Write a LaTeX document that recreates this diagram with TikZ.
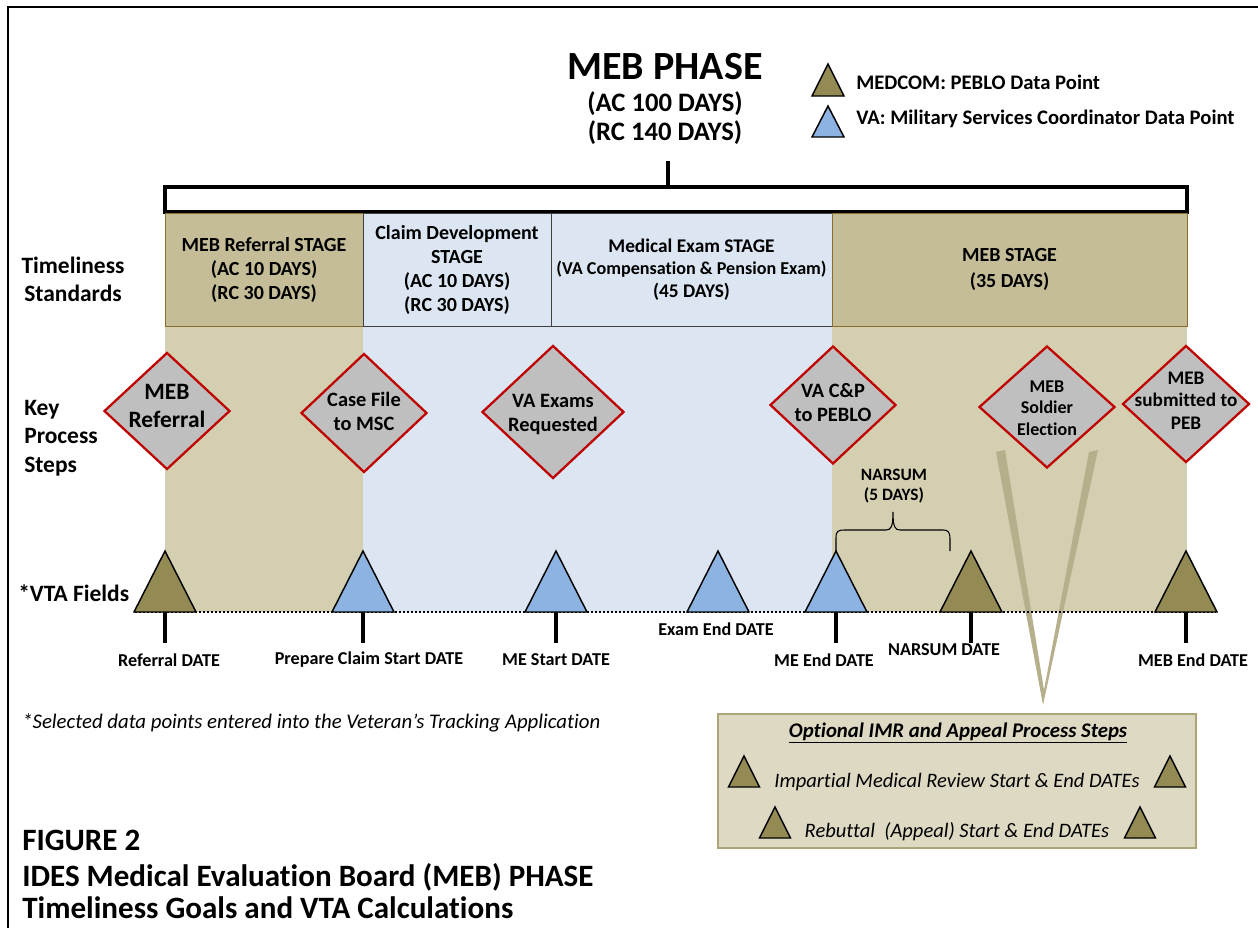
\documentclass[tikz,border=0pt]{standalone}
\usepackage{fontspec}
\setmainfont{Carlito}[Ligatures={NoCommon}]
\usetikzlibrary{shapes.geometric}

\definecolor{tanstage}{HTML}{C4BD97}
\definecolor{tanband}{HTML}{D5CFB2}
\definecolor{bluestage}{HTML}{DCE6F2}
\definecolor{tanborder}{HTML}{8C6D31}
\definecolor{diagray}{HTML}{BFBFBF}
\definecolor{diared}{HTML}{C00000}
\definecolor{medcom}{HTML}{948A54}
\definecolor{vablue}{HTML}{8DB3E2}
\definecolor{optfill}{HTML}{DDD9C3}
\definecolor{optborder}{HTML}{ADA577}
\definecolor{vmark}{HTML}{B5AF8C}

% triangle data point: name, x, base y, half width, height, fill
\newcommand\datatri[6]{%
  \coordinate (#1) at (#2,#3);
  \filldraw[tri, fill=#6] (#1) ++(-#4,0) -- ++(#4,-#5) -- ++(#4,#5) -- cycle;}

\begin{document}
\begin{tikzpicture}[x=0.75pt,y=-0.75pt,
  tri/.style={draw=black, line width=1.1pt, line join=miter},
  rowlbl/.style={font=\bfseries\fontsize{17.6}{21.2}\selectfont, inner sep=0},
  stagebox/.style={draw, line width=0.6pt, inner sep=0, align=center,
    font=\bfseries\fontsize{15}{18}\selectfont},
  kdiamond/.style={diamond, draw=diared, fill=diagray, line width=1.7pt, inner sep=0},
  dtext/.style={font=\bfseries\fontsize{15.3}{18.5}\selectfont, align=center, inner sep=0},
  datelbl/.style={font=\bfseries\fontsize{13.6}{16}\selectfont, inner sep=0},
  tick/.style={line width=2.6pt},
  legtxt/.style={font=\bfseries\fontsize{15.5}{18}\selectfont, anchor=west, inner sep=0},
  opttxt/.style={font=\itshape\fontsize{15.4}{18}\selectfont, inner sep=0}]

\useasboundingbox (0,0) rectangle (1258,928);

% outer frame (top and left edges)
\draw[line width=1.5pt] (8,928) -- (8,7) -- (1258,7);

% title
\node[font=\bfseries\fontsize{30}{36}\selectfont, inner sep=0] (title) at (665,67) {MEB PHASE};
\node[font=\bfseries\fontsize{20}{22}\selectfont, align=center, inner sep=0] (titsub) at (665,118)
  {(AC 100 DAYS)\\(RC 140 DAYS)};

% legend
\datatri{legmed}{828}{96}{16}{32}{medcom}
\datatri{legva}{828}{137}{16}{31}{vablue}
\node[legtxt] (legmedt) at (856,82) {MEDCOM: PEBLO Data Point};
\node[legtxt] (legvat) at (856,119) {VA: Military Services Coordinator Data Point};

% background bands
\fill[tanband] (165,326) rectangle (363,612);
\fill[bluestage] (363,326) rectangle (832,612);
\fill[tanband] (832,326) rectangle (1187,612);

% phase bracket and stages
\node[draw, fill=white, line width=2.5pt, minimum width=766.5pt, minimum height=18.75pt, inner sep=0]
  (bracket) at (676,199.5) {};
\coordinate (stemtop) at (668,161);
\draw[line width=2.4pt] (stemtop) -- (stemtop |- bracket.north);

\node[stagebox, draw=tanborder, fill=tanstage, minimum width=148.5pt, minimum height=84.75pt]
  (s1) at (264,269.5) {MEB Referral STAGE\\(AC 10 DAYS)\\(RC 30 DAYS)};
\node[stagebox, draw=black!75, fill=bluestage, minimum width=141pt, minimum height=84.75pt]
  (s2) at (457,269.5) {Claim Development\\STAGE\\(AC 10 DAYS)\\(RC 30 DAYS)};
\node[stagebox, draw=black!75, fill=bluestage, minimum width=210.75pt, minimum height=84.75pt,
  font=\bfseries\fontsize{14.5}{17}\selectfont]
  (s3) at (691.5,269.5) {Medical Exam STAGE\\{\fontsize{13.6}{17}\selectfont(VA Compensation \& Pension Exam)}\\(45 DAYS)};
\node[stagebox, draw=tanborder, fill=tanstage, minimum width=266.25pt, minimum height=84.75pt,
  font=\bfseries\fontsize{15}{19}\selectfont]
  (s4) at (1009.5,269.5) {MEB STAGE\\(35 DAYS)};

% row labels
\node[rowlbl, align=center] (rl1) at (73,279) {Timeliness\\Standards};
\node[rowlbl, align=left, anchor=west, font=\bfseries\fontsize{17.6}{21.4}\selectfont] (rl2) at (24,438) {Key\\Process\\Steps};
\node[rowlbl, anchor=west] (rl3) at (18,593) {*VTA Fields};

% optional steps marker
\fill[vmark] (996,452) -- (1005,450) -- (1044,690) -- (1089,452) -- (1098,450) -- (1043,705) -- cycle;

% key process steps
\node[kdiamond, minimum width=94.5pt, minimum height=87.75pt] (d1) at (167,411) {};
\node[dtext, font=\bfseries\fontsize{17.6}{21}\selectfont] (d1t) at (167,406) {MEB\\Referral};
\node[kdiamond, minimum width=94.5pt, minimum height=89.25pt] (d2) at (364,413) {};
\node[dtext] (d2t) at (364,411.5) {Case File\\to MSC};
\node[kdiamond, minimum width=106.5pt, minimum height=99.75pt] (d3) at (553,412) {};
\node[dtext] (d3t) at (553,414.5) {VA Exams\\Requested};
\node[kdiamond, minimum width=94.5pt, minimum height=88.5pt] (d4) at (833,405) {};
\node[dtext] (d4t) at (833,402.5) {VA C\&P\\to PEBLO};
\node[kdiamond, minimum width=102pt, minimum height=91.5pt] (d5) at (1047,407) {};
\node[dtext, font=\bfseries\fontsize{13.5}{16}\selectfont] (d5t) at (1047,408) {MEB\\Soldier\\Election};
\node[kdiamond, minimum width=95.25pt, minimum height=87.75pt] (d6) at (1186,404) {};
\node[dtext, font=\bfseries\fontsize{14.4}{16.8}\selectfont] (d6t) at (1186,400.5) {MEB\\submitted to\\PEB};

% VTA timeline
\draw[line width=1.5pt, dash pattern=on 1.5pt off 1.5pt] (135,612) -- (1216,612);
\datatri{t1}{165}{612}{31}{61}{medcom}
\datatri{t2}{363}{612}{31}{61}{vablue}
\datatri{t3}{556}{612}{31}{61}{vablue}
\datatri{t4}{718}{612}{31}{61}{vablue}
\datatri{t5}{836}{612}{31}{61}{vablue}
\datatri{t6}{971}{612}{31}{61}{medcom}
\datatri{t7}{1186}{612}{31}{61}{medcom}
\foreach \t in {t1,t2,t3,t5,t6,t7} {\draw[tick] (\t) -- ++(0,31);}

\node[datelbl] (l1) at (169,660) {Referral DATE};
\node[datelbl] (l2) at (369,660) {Prepare Claim Start DATE};
\node[datelbl] (l3) at (556,660) {ME Start DATE};
\node[datelbl] (l4) at (716,629) {Exam End DATE};
\node[datelbl] (l5) at (824,660) {ME End DATE};
\node[datelbl] (l6) at (944,650) {NARSUM DATE};
\node[datelbl] (l7) at (1193,660) {MEB End DATE};

% NARSUM interval brace
\coordinate (brR) at (950,551);
\draw[line width=0.8pt] (t5) ++(0,-61) -- ++(0,-13)
  .. controls (836,531) and (838,530) .. (845,530) -- (886,530)
  .. controls (891,530) and (893,527) .. (893,512)
  .. controls (893,527) and (895,530) .. (900,530) -- (943,530)
  .. controls (948,530) and (950,532) .. (950,539) -- (brR);
\node[datelbl, font=\bfseries\fontsize{13}{15}\selectfont, align=center] (nars) at (894,486) {NARSUM\\(5 DAYS)};

% optional steps box
\node[draw=optborder, fill=optfill, line width=1.1pt, minimum width=358.5pt, minimum height=100.5pt, inner sep=0]
  (opt) at (957,781) {};
\node[font=\bfseries\itshape\fontsize{15.6}{18}\selectfont, inner sep=0] (opth) at (958,733)
  {\underline{Optional IMR and Appeal Process Steps}};
\node[opttxt] (opt1) at (957,782) {Impartial Medical Review Start \& End DATEs};
\node[opttxt] (opt2) at (957,832) {Rebuttal~ (Appeal) Start \& End DATEs};
\datatri{o1a}{744}{787}{15.5}{31}{medcom}
\datatri{o1b}{1170}{787}{15.5}{31}{medcom}
\datatri{o2a}{775}{838}{15.5}{31}{medcom}
\datatri{o2b}{1140}{838}{15.5}{31}{medcom}

% footnote and caption
\node[font=\itshape\fontsize{15.6}{18}\selectfont, anchor=west, inner sep=0] (foot) at (22,723)
  {*Selected data points entered into the Veteran’s Tracking Application};
\node[font=\bfseries\fontsize{23.3}{27}\selectfont, anchor=west, inner sep=0] (cap1) at (22,840) {FIGURE 2};
\node[font=\bfseries\fontsize{23.3}{27}\selectfont, anchor=west, inner sep=0] (cap2) at (22,877) {IDES Medical Evaluation Board (MEB) PHASE};
\node[font=\bfseries\fontsize{23.3}{27}\selectfont, anchor=west, inner sep=0] (cap3) at (22,908) {Timeliness Goals and VTA Calculations};
\end{tikzpicture}
\end{document}
